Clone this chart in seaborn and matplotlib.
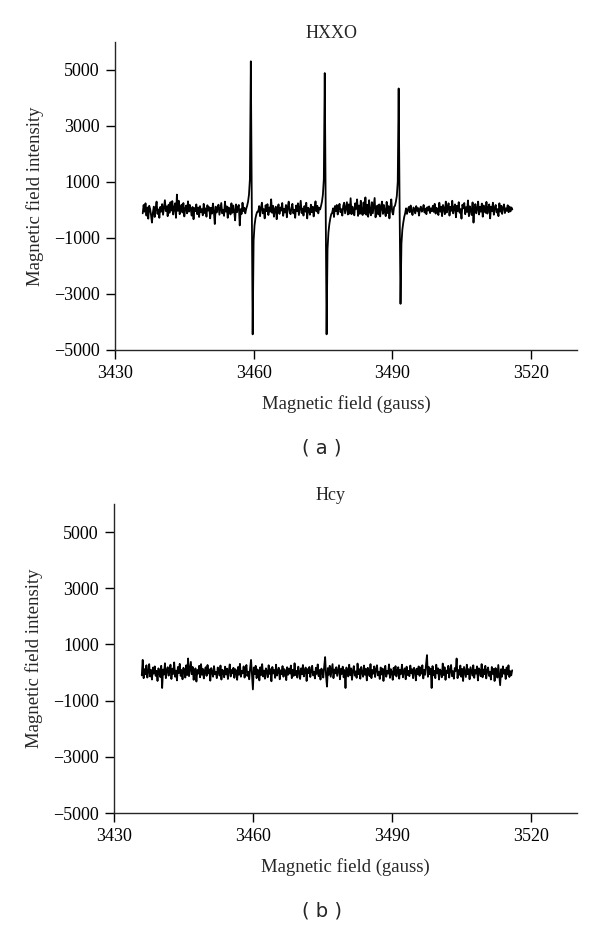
import numpy as np
import pandas as pd
import matplotlib
matplotlib.use("Agg")
import matplotlib.pyplot as plt
import seaborn as sns

# --- field sweep (gauss): 3436 -> 3516, 0.2 G per point ---
campo_ini, campo_fim, n_pontos = 3436.0, 3516.0, 401

# --- HXXO spectrum in pieces ---
hxxo_base1 = [
    -120, 180, -60, 240, -200, 90, -310, 150, 40, -180,
    -450, -90, 120, -250, 60, 300, -140, 20, -280, 110,
    -60, 210, -170, 80, 350, -40, 130, -220, 190, -100,
    280, -20, 320, -160, 70, 240, -280, 550, -30, 330,
    -150, 60, 190, -90, 250, -230, 40, 160, -120, 310,
    -60, 180, 20, -200, 110, -330, 70, -40, 200, -150,
    90, -250, 140, -80, 30, -190, 220, -110, 60, -240,
    170, -20, 100, -300, 80, -130, 230, -50, -500, 120,
    -90, 60, 190, -170, 40, 250, -120, 10, -210, 300,
    -60, 130, -280, 90, 20, -160, 240, -100, 160, -50,
    -370, 200, -80, 110, 180, -550, 30, -140, 260, -40,
    80, -120, 40]
hxxo_peak1 = [150, 300, 550, 1100, 5310, 300, -4440, -1100, -550, -300, -150, -60]
hxxo_base2 = [
    -60, 140, -220, 80, 260, -120, 30, -300, 170, -40,
    210, -180, 90, -60, 380, -100, 150, -240, 20, 120,
    -330, 60, 200, -140, 90, -20, 250, -210, 40, -90,
    180, -260, 110, 300, -70, -150, 70, 220, -120, 10,
    -280, 160, -40, 240, -180, 90, 330, -110, 50, -200,
    140, -60, 260, -300, 80, 20, -170, 190, -80, 120,
    -230, 60, 310, -50, 150, -120, 80, 20]
hxxo_peak2 = [150, 300, 550, 1100, 4890, 200, -4440, -1400, -800, -500, -300, -150]
hxxo_base3 = [
    -100, 60, -250, 140, -40, 180, -160, 90, 220, -80,
    30, -200, 150, 260, -120, 70, 280, -160, 200, -130,
    420, -150, 120, -60, -190, 240, 40, 380, -210, 160,
    -140, 330, -80, -180, 270, -120, 450, -170, 190, -240,
    350, -60, -190, 280, -120, 150, 430, -260, 100, 160,
    -160, 200, -230, 120, 300, -140, 180, -70, -220, 290,
    -110, 140, -300, 90, 380, -70, -160, 110]
hxxo_peak3 = [150, 300, 500, 1000, 4340, 200, -3350, -1200, -700, -450, -250, -120]
hxxo_base4 = [
    60, -140, 20, 110, -80, 160, -50, -180, 90, 30,
    -120, 140, -30, 70, -200, 40, 120, -60, 10, 180,
    -90, 50, -150, 100, -20, 130, -110, 60, -40, 150,
    -70, 220, -130, 80, 10, -180, 260, -60, 120, -220,
    180, 40, -150, 300, -90, 60, 240, -200, 110, -30,
    330, -120, 70, 200, -260, 150, -40, 280, -100, 30,
    -310, 190, 60, 250, -150, 100, -70, 340, -220, 130,
    20, -180, 270, -450, 90, 210, -120, 40, 300, -160,
    110, -60, 230, -240, 160, 20, -100, 290, -130, 70,
    200, -300, 120, -40, 260, -170, 80, 180, -90, 30,
    -220, 240, -60, 150, -140, 90, 200, -110, 60, -30,
    170, -80, 120, -50, 90, 20]

# --- Hcy spectrum (noise only) ---
hcy_1 = [
    -100, 450, -200, 120, -60, 260, -180, 40, 300, -140,
    90, -250, 180, -40, 220, -120, 60, -300, 150, 20,
    -160, 240, -550, 110, -70, 330, -200, 80, 190, -110,
    30, 280, -230, 140, -50, 360, -150, 70, -280, 200,
    -20, 310, -120, 90, -240, 170, 50, -180, 260, -90,
    500, -130, 120, 380, -60, 200, -260, 40, 150, -320,
    90, -40, 240, -170, 300, -80, 130, -210, 60, 190,
    -120, 270, -30, 110, -290, 160, 40, -150, 230, -60,
    20, -200, 180, 80, -110, 250, -250, 100, 30, -170,
    210, -70, 140, -230, 60, 290, -140, 90, -30, 170]
hcy_2 = [
    -190, 120, 40, -260, 200, -80, 310, -150, 60, -30,
    220, -180, 90, 270, -120, 30, -240, 160, 450, -100,
    -600, 180, -60, 240, -200, 110, 20, -280, 190, -90,
    300, -140, 70, -220, 150, 40, -170, 260, -50, 120,
    -310, 200, -30, 90, -190, 280, -110, 50, 170, -240,
    80, -60, 230, -150, 120, 30, -270, 190, -80, 140,
    -40, 250, -200, 100, -120, 330, -90, 60, -180, 210,
    20, -230, 150, -60, 270, -140, 80, 180, -300, 120,
    -20, 200, -160, 60, 240, -100, 30, -210, 170, -50,
    290, -130, 90, -250, 140, 40, -180, 220, 550, -120]
hcy_3 = [
    -500, 160, -80, 240, -150, 70, 300, -200, 110, -30,
    190, -120, 60, 260, -240, 130, -50, 210, -170, 90,
    -550, 180, 30, -140, 280, -90, 150, -260, 70, 230,
    -110, 40, -190, 320, -60, 120, -220, 200, 10, -150,
    250, -80, 130, -280, 170, 50, -130, 300, -200, 90,
    -40, 220, -160, 110, 260, -100, 30, -230, 180, -70,
    140, -300, 90, 240, -150, 60, -40, 290, -190, 120,
    20, -260, 170, -80, 230, -140, 70, 190, -220, 100,
    -50, 280, -170, 40, 150, -240, 210, -90, 60, -130,
    250, -30, 120, -200, 170, 80, -280, 140, -60, 220]
hcy_4 = [
    -120, 180, -40, 260, -210, 90, -80, 300, 620, -150,
    200, -60, 140, -550, 230, -100, 60, -200, 280, -30,
    150, -250, 110, 40, -170, 320, -90, 190, -260, 70,
    -20, 240, -180, 100, 270, -130, 50, -220, 160, 60,
    500, -200, 90, -80, 250, -150, 130, -300, 200, 20,
    -160, 280, -60, 120, -240, 190, 40, -110, 260, -190,
    90, -40, 220, -280, 150, 70, -130, 300, -170, 110,
    -60, 240, -210, 80, 180, -120, 30, -250, 200, -50,
    130, -300, 160, 60, -180, 270, -90, -450, 120, -150,
    220, -40, 100, -230, 180, -70, 260, -160, 50, -100,
    80]

titulos = ["HXXO", "Hcy"]
rotulos = ["( a )", "( b )"]
x_ticks = [3430, 3460, 3490, 3520]
y_ticks = [-5000, -3000, -1000, 1000, 3000, 5000]

campo = np.linspace(campo_ini, campo_fim, n_pontos)
hxxo = hxxo_base1 + hxxo_peak1 + hxxo_base2 + hxxo_peak2 + hxxo_base3 + hxxo_peak3 + hxxo_base4
hcy = hcy_1 + hcy_2 + hcy_3 + hcy_4
df = pd.DataFrame({"campo": campo, "HXXO": hxxo, "Hcy": hcy})

sns.set_style("ticks")
plt.rcParams["font.family"] = ["Liberation Serif", "DejaVu Serif"]
plt.rcParams["axes.linewidth"] = 1.0

fig = plt.figure(figsize=(6, 9.27), dpi=100)
posicoes = [[115/600, 1-350/927, 462/600, 308/927],
            [114/600, 1-813/927, 463/600, 309/927]]
rot_y = [448, 911]

for nome, pos, rot, yr in zip(titulos, posicoes, rotulos, rot_y):
    ax = fig.add_axes(pos)
    sns.lineplot(data=df, x="campo", y=nome, ax=ax, color="black",
                 linewidth=1.3, estimator=None)
    ax.set_xlim(3430, 3530)
    ax.set_ylim(-5000, 6000)
    ax.set_xticks(x_ticks)
    ax.set_yticks(y_ticks)
    ax.tick_params(direction="out", length=6.5, width=1.0, pad=4.5,
                   labelsize=13, colors="black")
    sns.despine(ax=ax)
    ax.set_title(nome, x=0.468, pad=3, fontsize=13)
    ax.set_xlabel("Magnetic field (gauss)", fontsize=13.5, labelpad=9)
    ax.set_ylabel("Magnetic field intensity", fontsize=13.5, labelpad=7)
    fig.text(322/600, 1-yr/927, rot, ha="center", va="center",
             family="DejaVu Sans", fontsize=14)

plt.savefig("out.png", dpi=100)
plt.close()
